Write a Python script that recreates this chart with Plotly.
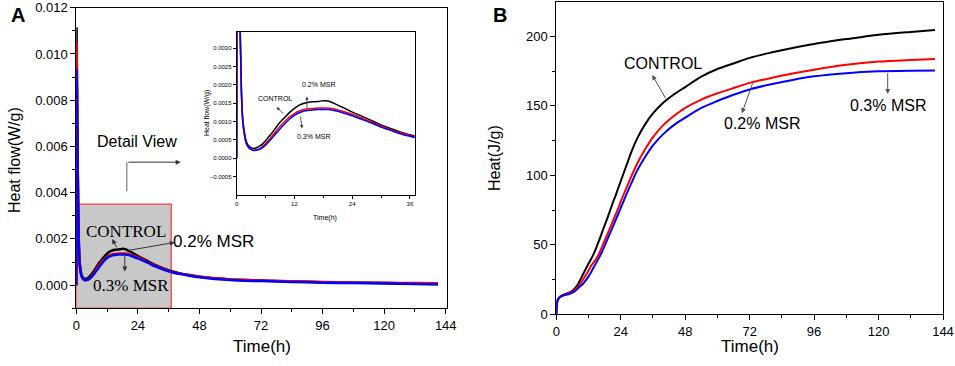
import plotly.graph_objects as go

# ---------------- Panel A data: heat flow (W/g) ----------------
tA = [0, 0.1, 0.3, 0.5, 0.75, 1, 1.25, 1.5, 2, 2.5, 3, 3.5, 4, 5, 6, 7, 8, 9, 10, 11,
      12, 13, 14, 15, 16, 17, 18, 19, 20, 21, 22, 24, 26, 28, 30, 32, 34, 36, 38, 40,
      44, 48, 54, 60, 66, 72, 84, 96, 108, 120, 132, 141]
flow_control = [0, 0.0111, 0.0085, 0.0058, 0.0034, 0.0018, 0.0011, 0.0008, 0.00046, 0.00034,
                0.00029, 0.00027, 0.00028, 0.00035, 0.00048, 0.00064, 0.00081, 0.00098, 0.00112, 0.00125,
                0.00136, 0.00145, 0.0015, 0.00153, 0.00154, 0.00155, 0.00157, 0.00156, 0.00151, 0.00145,
                0.00139, 0.00126, 0.00115, 0.00103, 0.00091, 0.00081, 0.00072, 0.00064, 0.00058, 0.00052,
                0.00044, 0.00037, 0.0003, 0.00025, 0.00022, 0.0002, 0.00016, 0.00013, 0.00011, 0.00009,
                0.00007, 0.00006]
flow_02 = [0, 0.01045, 0.0081, 0.0056, 0.0033, 0.0017, 0.00105, 0.00075, 0.00042, 0.0003,
           0.00025, 0.00022, 0.00023, 0.00028, 0.0004, 0.00055, 0.00071, 0.00087, 0.00101, 0.00113,
           0.00122, 0.00129, 0.00133, 0.00135, 0.00136, 0.00137, 0.00137, 0.00137, 0.00135, 0.00132,
           0.00128, 0.0012, 0.0011, 0.00099, 0.00088, 0.00078, 0.0007, 0.00062, 0.00056, 0.00051,
           0.00043, 0.00036, 0.0003, 0.00025, 0.00022, 0.0002, 0.00017, 0.00014, 0.00012, 0.0001,
           0.00009, 0.00008]
flow_03 = [0, 0.0093, 0.0078, 0.0054, 0.0032, 0.0017, 0.001, 0.00072, 0.0004, 0.00029,
           0.00024, 0.00021, 0.00022, 0.00026, 0.00036, 0.0005, 0.00065, 0.0008, 0.00094, 0.00107,
           0.00117, 0.00124, 0.00129, 0.00131, 0.00132, 0.00133, 0.00133, 0.00133, 0.00131, 0.00128,
           0.00124, 0.00116, 0.00106, 0.00096, 0.00085, 0.00076, 0.00067, 0.0006, 0.00054, 0.00049,
           0.00041, 0.00034, 0.00027, 0.00022, 0.00019, 0.00018, 0.00014, 0.00011, 0.00009, 0.00007,
           0.00005, 0.00003]

# ---------------- Panel B data: cumulative heat (J/g) ----------------
tB = [0, 0.2, 0.5, 1, 2, 3, 4, 5, 6, 7, 8, 9, 10, 11, 12, 13, 14, 15, 16, 17, 18, 19, 20,
      21, 22, 23, 24, 26, 28, 30, 33, 36, 40, 44, 48, 54, 60, 66, 72, 80, 88, 96, 108, 120, 132, 141]
heat_control = [0, 7, 10.5, 12, 13.5, 14.3, 15, 15.8, 17, 18.8, 21.5, 25, 29, 32.8, 36.5, 40, 43.8,
                48.5, 53.5, 58.8, 64, 69, 74.5, 80, 85, 90.5, 95.8, 106.5, 117, 126, 136.5, 144.5,
                152.5, 158.5, 163.5, 171, 176.5, 180.5, 184.5, 188.3, 191.6, 194.5, 198, 201.2, 203.2, 204.5]
heat_02 = [0, 7, 10.5, 11.8, 13.2, 14, 14.6, 15.3, 16.3, 17.8, 19.8, 22.3, 25, 28.2, 31.5, 35, 37.5,
           40.5, 44, 48.5, 53, 57.5, 62, 66.6, 71.3, 76, 81, 90.5, 99.5, 108, 118.5, 127.5,
           136.5, 143, 148.5, 154.5, 159, 162.8, 166.5, 170, 173.2, 176, 179.5, 181.8, 183, 183.7]
heat_03 = [0, 6.5, 10, 11.5, 13, 13.7, 14.2, 14.8, 15.6, 16.8, 18.5, 20.3, 22, 24.5, 27.3, 30.5, 34,
           37.5, 41, 44.8, 49.3, 53.8, 58.3, 62.8, 67.3, 71.8, 76.5, 85.8, 94.5, 103, 113, 121.5,
           130, 136.5, 141.5, 148.5, 153.5, 158, 161.8, 165.5, 168.6, 171.2, 173.5, 174.8, 175.3, 175.5]

series_names = ["CONTROL", "0.2% MSR", "0.3% MSR"]
colors = ["#000000", "#ff0000", "#0000ff"]

W, H = 955, 366
SANS = "Liberation Sans, Arial, sans-serif"
SERIF = "Liberation Serif, Times New Roman, serif"
NARROW = "Liberation Sans Narrow, Arial Narrow, Liberation Sans, sans-serif"


def px(x):
    return x / W


def py(y):
    return 1 - y / H


fig = go.Figure()

flows = [flow_control, flow_02, flow_03]
heats = [heat_control, heat_02, heat_03]
for name, c, f in zip(series_names, colors, flows):
    fig.add_trace(go.Scatter(x=tA, y=f, mode="lines", name=name,
                             line=dict(color=c, width=2.5, shape="spline", smoothing=0.6),
                             xaxis="x", yaxis="y", showlegend=False))
for name, c, h in zip(series_names, colors, heats):
    fig.add_trace(go.Scatter(x=tB, y=h, mode="lines", name=name,
                             line=dict(color=c, width=2, shape="spline", smoothing=0.8),
                             xaxis="x2", yaxis="y2", showlegend=False))
for name, c, f in zip(series_names, colors, flows):
    fig.add_trace(go.Scatter(x=tA, y=f, mode="lines", name=name,
                             line=dict(color=c, width=1.5, shape="spline", smoothing=0.6),
                             xaxis="x3", yaxis="y3", showlegend=False))

axis_common = dict(showline=True, linecolor="black", linewidth=1, mirror=True, ticks="outside",
                   ticklen=5, tickcolor="black", showgrid=False, zeroline=False, automargin=False,
                   tickfont=dict(family=SANS, size=13, color="black"))

fig.update_layout(
    width=W, height=H, margin=dict(l=0, r=0, t=0, b=0, autoexpand=False),
    paper_bgcolor="white", plot_bgcolor="white", showlegend=False,
    xaxis=dict(axis_common, domain=[px(76.3), px(447)], range=[0, 144.5], tick0=0, dtick=24,
               minor=dict(dtick=12, ticklen=3, ticks="outside", tickcolor="black"), anchor="y"),
    yaxis=dict(axis_common, domain=[py(308.3), py(7.7)], range=[-0.001, 0.012], tick0=0, dtick=0.002,
               tickformat=".3f",
               minor=dict(dtick=0.001, ticklen=3, ticks="outside", tickcolor="black"), anchor="x"),
    xaxis2=dict(axis_common, domain=[px(556.3), px(943)], range=[0, 144], tick0=0, dtick=24,
                minor=dict(dtick=12, ticklen=3, ticks="outside", tickcolor="black"), anchor="y2"),
    yaxis2=dict(axis_common, domain=[py(314.3), py(2)], range=[0, 224.7], tick0=0, dtick=50,
                minor=dict(dtick=25, ticklen=3, ticks="outside", tickcolor="black"), anchor="x2"),
    xaxis3=dict(axis_common, domain=[px(236.7), px(414.7)], range=[0, 37], tickvals=[0, 12, 24, 36],
                ticklen=3, tickfont=dict(family=NARROW, size=6, color="black"),
                minor=dict(tickvals=[6, 18, 30], ticklen=2, ticks="outside", tickcolor="black"),
                anchor="y3"),
    yaxis3=dict(axis_common, domain=[py(195), py(31.7)], range=[-0.001, 0.00345],
                tickvals=[-0.0005, 0, 0.0005, 0.001, 0.0015, 0.002, 0.0025, 0.003], tickformat=".4f",
                ticklen=3, tickfont=dict(family=NARROW, size=6, color="black"), anchor="x3"),
)

# Detail-view rectangle on panel A
fig.add_shape(type="rect", xref="x", yref="y", x0=0, x1=37, y0=-0.001, y1=0.0035,
              fillcolor="#c8c8c8", line=dict(color="#f05a5a", width=1.5), layer="below")

# Detail view bracket
fig.add_shape(type="line", xref="x", yref="y", x0=19.7, x1=19.7, y0=0.00406, y1=0.00532,
              line=dict(color="#666666", width=1))
fig.add_annotation(xref="x", yref="y", axref="x", ayref="y", x=40.7, y=0.00532, ax=19.7, ay=0.00532,
                   text="", showarrow=True, arrowhead=2, arrowsize=1, arrowwidth=1, arrowcolor="#333333")


def text(x, y, s, xref, yref, size, family=SANS, **kw):
    fig.add_annotation(x=x, y=y, xref=xref, yref=yref, text=s, showarrow=False,
                       xanchor="center", yanchor="middle",
                       font=dict(family=family, size=size, color="black"), **kw)


def arrow(x0, y0, x1, y1, xr, yr, width=1, color="#333333", size=1):
    fig.add_annotation(x=x1, y=y1, ax=x0, ay=y0, xref=xr, yref=yr, axref=xr, ayref=yr, text="",
                       showarrow=True, arrowhead=2, arrowsize=size, arrowwidth=width, arrowcolor=color)


# Panel labels
text(px(18), py(15), "<b>A</b>", "paper", "paper", 20)
text(px(500), py(15), "<b>B</b>", "paper", "paper", 20)

# Axis titles
text(px(14), py(160), "Heat flow(W/g)", "paper", "paper", 16, textangle=-90)
text(px(262), py(346), "Time(h)", "paper", "paper", 17)
text(px(494), py(158), "Heat(J/g)", "paper", "paper", 16, textangle=-90)
text(px(750), py(346), "Time(h)", "paper", "paper", 17)
text(px(136.7), py(141.7), "Detail View", "paper", "paper", 16)

# Inset titles
text(px(207), py(113), "Heat flow(W/g)", "paper", "paper", 7, family=NARROW, textangle=-90)
text(px(325), py(218), "Time(h)", "paper", "paper", 7, family=NARROW)

# Panel A annotations
text(19.3, 0.00233, "CONTROL", "x", "y", 17, family=SERIF)
arrow(16, 0.00157, 14, 0.002, "x", "y")
text(53.3, 0.00187, "0.2% MSR", "x", "y", 17)
arrow(19.6, 0.00149, 38.4, 0.00185, "x", "y")
text(21.5, 0.0, "0.3% MSR", "x", "y", 17, family=SERIF)
arrow(18.9, 0.00146, 18.9, 0.00059, "x", "y")

# Panel B annotations
text(39.8, 180.8, "CONTROL", "x2", "y2", 16)
arrow(41.1, 154.2, 35.7, 172.2, "x2", "y2", color="#555555")
text(76.6, 137.4, "0.2% MSR", "x2", "y2", 16)
arrow(73.3, 167.3, 69.1, 144.6, "x2", "y2", color="#555555")
text(123.6, 149.9, "0.3% MSR", "x2", "y2", 16)
arrow(123.4, 174.5, 123.4, 158.5, "x2", "y2", color="#555555")

# Inset annotations
text(8.0, 0.00162, "CONTROL", "x3", "y3", 7, family=NARROW)
arrow(10, 0.00118, 8.3, 0.00139, "x3", "y3", width=0.8, size=0.8)
text(17, 0.002, "0.2% MSR", "x3", "y3", 7, family=NARROW)
arrow(14.6, 0.00132, 14.6, 0.00168, "x3", "y3", width=0.8, size=0.8)
text(15.9, 0.00059, "0.3% MSR", "x3", "y3", 7, family=NARROW)
arrow(13.2, 0.00118, 13.6, 0.00082, "x3", "y3", width=0.8, size=0.8)

fig.write_html("out.html", config={"displayModeBar": False},
               post_script="document.body.style.margin='0px';document.body.style.overflow='hidden';")
